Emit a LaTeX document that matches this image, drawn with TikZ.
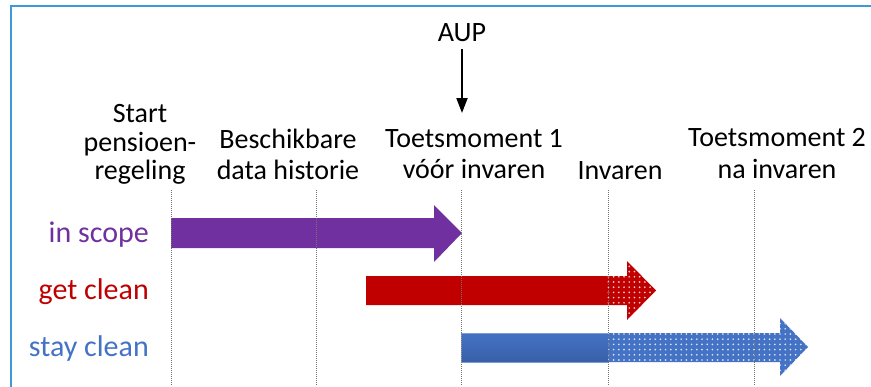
\documentclass[tikz,border=0pt]{standalone}
\usepackage{fontspec}
\setmainfont{Carlito}
\usetikzlibrary{arrows.meta,patterns.meta}
\definecolor{frameblue}{RGB}{60,155,215}
\definecolor{cpurple}{RGB}{112,48,160}
\definecolor{cred}{RGB}{192,0,0}
\definecolor{cblue}{RGB}{68,114,196}
\definecolor{cbluedark}{RGB}{56,96,168}
\tikzset{
  hdr/.style={anchor=base, inner sep=0pt, font=\fontsize{28}{30}\selectfont},
  rowlabel/.style={anchor=base east, inner sep=0pt, font=\fontsize{30}{32}\selectfont},
  guide/.style={draw=black!55, line width=0.7pt, dash pattern=on 1pt off 1pt},
  dotty/.style={pattern={Dots[distance=5.2pt, radius=0.95pt]}, pattern color=white!80!#1},
}
\begin{document}
\begin{tikzpicture}[x=1pt,y=-1pt]
\useasboundingbox (0,0) rectangle (871,386);
% frame
\draw[frameblue, line width=2.5pt] (11,400) -- (11,6) -- (880,6);

% headers
\node[hdr] (aup) at (462,41) {AUP};
\node[hdr] (s1) at (140,122) {Start};
\node[hdr] (s2) at (140,151) {pensioen-};
\node[hdr] (s3) at (140,179) {regeling};
\node[hdr] (b1) at (288,148) {Beschikbare};
\node[hdr] (b2) at (288,179) {data historie};
\node[hdr] (t1) at (474,147) {Toetsmoment 1};
\node[hdr] (t2) at (474,178) {vóór invaren};
\node[hdr] (inv) at (620,179) {Invaren};
\node[hdr] (u1) at (777,146) {Toetsmoment 2};
\node[hdr] (u2) at (777,178) {na invaren};

\coordinate (aupend) at (462,113);
\draw[line width=2pt, -{Triangle[length=15pt,width=11pt]}] (aup.south) ++(0,8) -- (aupend);

% row labels
\node[rowlabel, text=cpurple] (lscope) at (149,242) {in scope};
\node[rowlabel, text=cred] (lget) at (149,299) {get clean};
\node[rowlabel, text=cblue] (lstay) at (149,356) {stay clean};

% in scope arrow
\fill[cpurple] (171,218) -- (434,218) -- (434,205) -- (462,233) -- (434,262) -- (434,248) -- (171,248) -- cycle;

% get clean arrow
\fill[cred] (366,276) -- (627,276) -- (627,261) -- (656,290.5) -- (627,320) -- (627,305) -- (366,305) -- cycle;
\fill[dotty=cred] (606,276) -- (627,276) -- (627,261) -- (656,290.5) -- (627,320) -- (627,305) -- (606,305) -- cycle;

% stay clean arrow
\fill[cblue] (608,333) -- (780,333) -- (780,318) -- (808,347) -- (780,376) -- (780,362) -- (608,362) -- cycle;
\fill[dotty=cblue] (608,333) -- (780,333) -- (780,318) -- (808,347) -- (780,376) -- (780,362) -- (608,362) -- cycle;
\shade[top color=cblue, bottom color=cbluedark] (461,333) rectangle (608,362);
\draw[cblue!70!white, line width=0.6pt] (608,333) -- (461,333) -- (461,362) -- (608,362);

% guide lines
\foreach \x/\n in {171/ga,316/gb,461/gc,608/gd,754/ge}{
  \coordinate (\n t) at (\x,190);
  \coordinate (\n b) at (\x,386);
  \draw[guide] (\n t) -- (\n b);
}
\end{tikzpicture}
\end{document}
